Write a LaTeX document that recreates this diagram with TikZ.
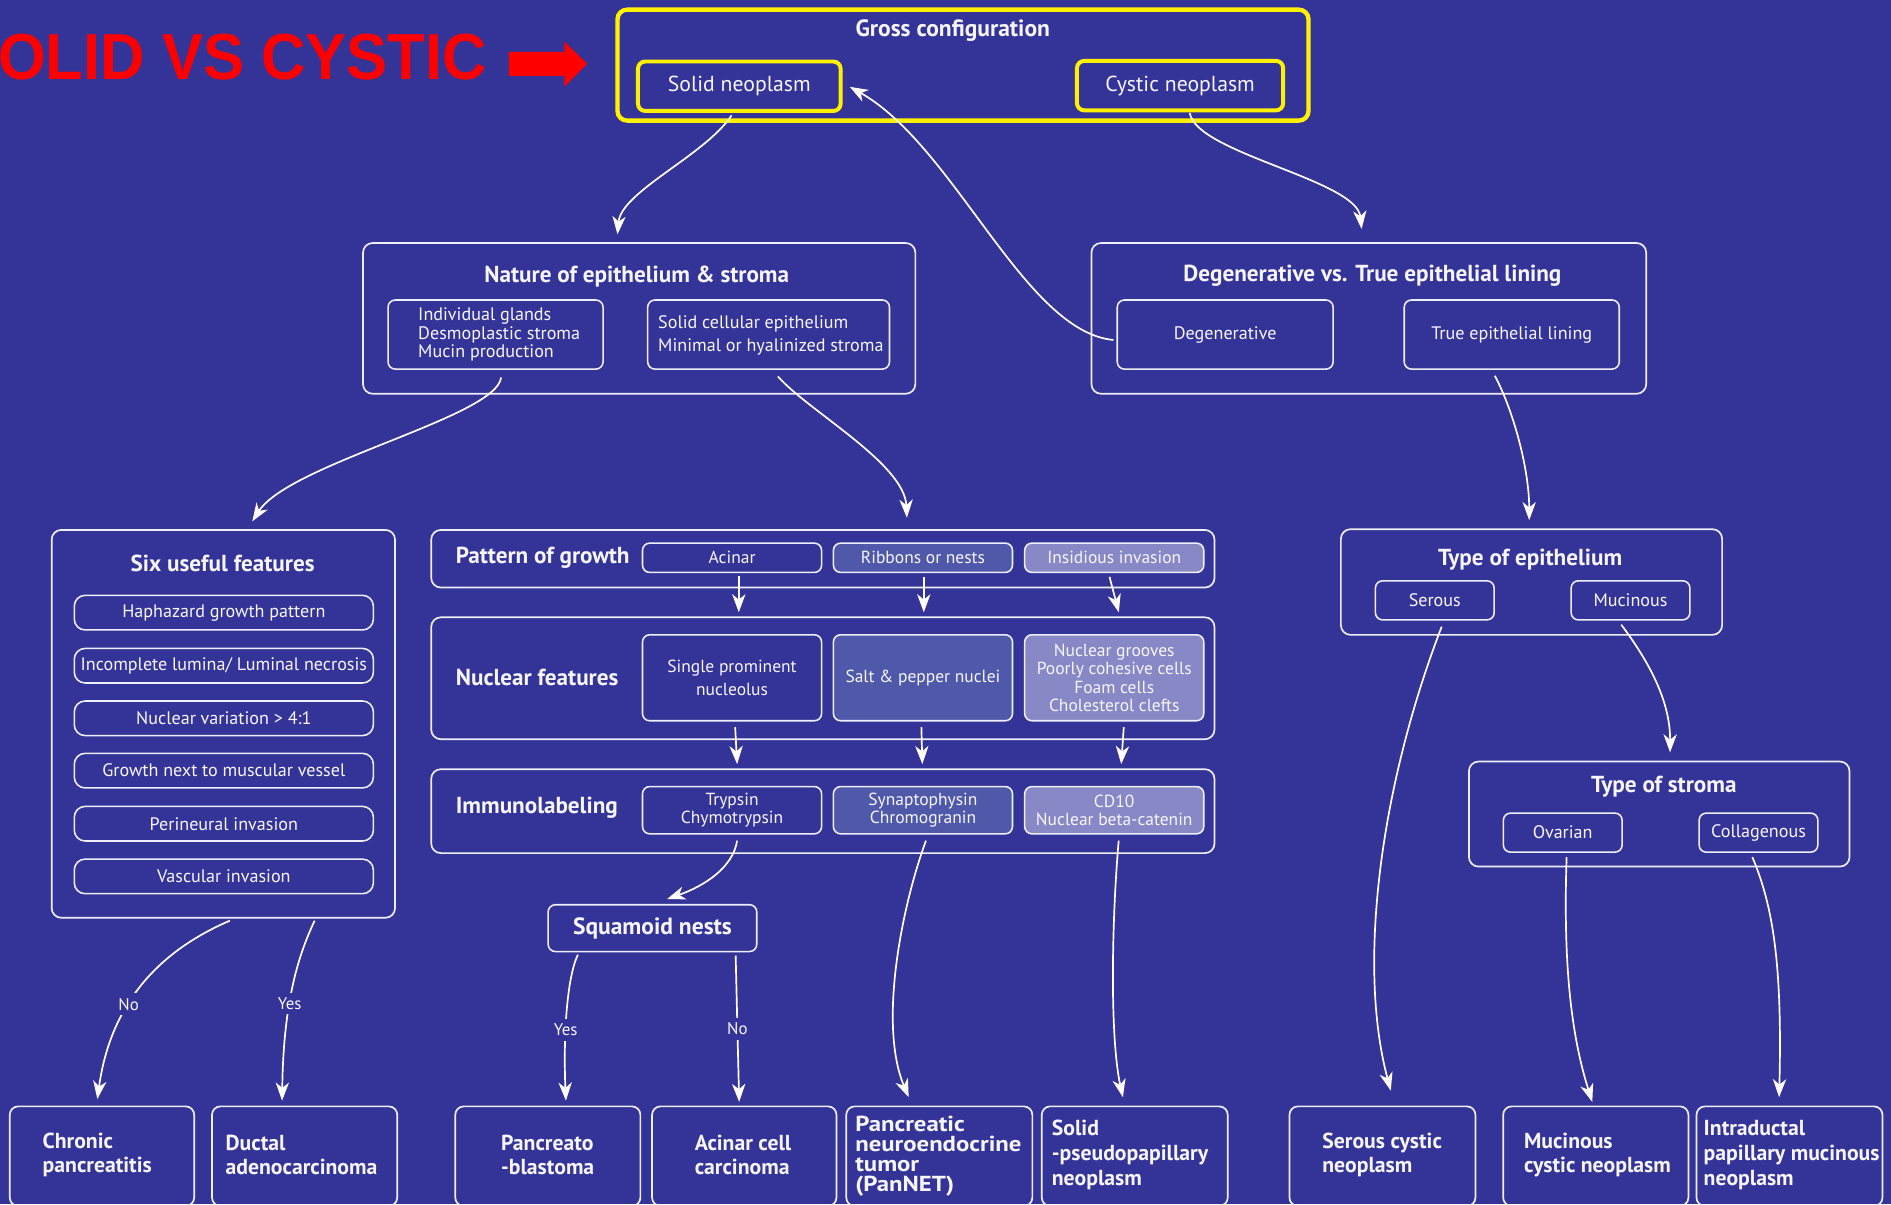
\documentclass[tikz,border=0pt]{standalone}
\usepackage{fontspec}
\setmainfont{PT Sans}
\newfontfamily\headfont{Liberation Sans}
\usetikzlibrary{arrows.meta,calc}
\definecolor{bg}{RGB}{52,52,152}
\definecolor{midfill}{RGB}{80,88,170}
\definecolor{lightfill}{RGB}{136,136,198}
\definecolor{ylw}{RGB}{255,240,0}
\definecolor{txt}{RGB}{246,246,252}
\definecolor{redc}{RGB}{255,0,0}
\definecolor{edge}{RGB}{238,238,248}
\newcommand{\myfs}[2]{\fontsize{#1}{#2}\selectfont}
\tikzset{
  obox/.style={draw=edge, line width=1.4pt, rounded corners=8pt, inner sep=0pt},
  sbox/.style={draw=edge, line width=1.3pt, rounded corners=6pt, inner sep=0pt, text=txt, align=center},
  ybox/.style={draw=ylw, line width=3.6pt, rounded corners=8pt, inner sep=0pt, text=txt, align=center},
  ttl/.style={text=txt, inner sep=0pt, font=\bfseries\myfs{19.2}{22}},
  body/.style={text=txt, inner sep=0pt, align=left},
  item/.style={sbox, rounded corners=9pt, minimum width=248pt, minimum height=28.7pt, font=\myfs{15}{18}},
  cell/.style={sbox, minimum width=148.5pt, font=\myfs{14.5}{15.3}},
  small/.style={sbox, minimum width=98.5pt, minimum height=32.4pt, font=\myfs{15}{17}},
  leaf/.style={draw=edge, line width=1.4pt, rounded corners=7pt, inner sep=0pt, minimum height=82.6pt},
  leaft/.style={text=txt, inner sep=0pt, align=left, anchor=west, font=\bfseries\myfs{18}{20}},
  conn/.style={draw=white, line width=1.4pt, -{Stealth[length=15pt,width=11pt,inset=4.5pt]}},
  yn/.style={fill=bg, text=txt, inner xsep=2pt, inner ysep=4pt, font=\myfs{14}{16}},
}
\begin{document}
\begin{tikzpicture}[x=1pt,y=-1pt]
\useasboundingbox (0,0) rectangle (1568,998.4);
\fill[bg] (0,0) rectangle (1568,998.4);
\clip (0,0) rectangle (1568,998.4);

% heading
\node[anchor=base east, inner sep=0pt, text=redc, font=\headfont\bfseries\myfs{54}{60}, xscale=0.945] (head) at (404,66.3) {OLID VS CYSTIC};
\fill[redc] (422,43) -- (468,43) -- (468,34.5) -- (487,53) -- (468,72) -- (468,63) -- (422,63) -- cycle;

% gross configuration
\node[ybox, minimum width=573pt, minimum height=92pt] (gross) at (798.5,54) {};
\node[ttl, font=\bfseries\myfs{19.5}{22}] (grossT) at (790,25) {Gross configuration};
\node[ybox, line width=3.3pt, rounded corners=6pt, minimum width=168pt, minimum height=41pt, font=\myfs{18}{20}] (solid) at (613,71.5) {Solid neoplasm};
\node[ybox, line width=3.3pt, rounded corners=6pt, minimum width=171pt, minimum height=41pt, font=\myfs{18}{20}] (cystic) at (978.5,71) {Cystic neoplasm};

% nature
\node[obox, minimum width=458pt, minimum height=125pt] (nat) at (530,264) {};
\node[ttl] (natT) at (528,229) {Nature of epithelium \& stroma};
\node[sbox, minimum width=178.3pt, minimum height=57.3pt] (nat1) at (410.9,277.4) {};
\node[body, anchor=west, font=\myfs{15}{15.5}] (nat1T) at (346.6,277.5) {Individual glands\\Desmoplastic stroma\\Mucin production};
\node[sbox, minimum width=200.5pt, minimum height=57.3pt] (nat2) at (637.3,277.4) {};
\node[body, anchor=west, font=\myfs{15}{18.5}] (nat2T) at (545.6,278.2) {Solid cellular epithelium\\Minimal or hyalinized stroma};

% degenerative
\node[obox, minimum width=460pt, minimum height=125pt] (deg) at (1135,264) {};
\node[ttl] (degT) at (1138,229) {Degenerative vs. True epithelial lining};
\node[sbox, minimum width=179pt, minimum height=57.3pt, font=\myfs{15}{17}] (degen) at (1015.9,277.4) {Degenerative};
\node[sbox, minimum width=178.3pt, minimum height=57.3pt, font=\myfs{15}{17}] (truel) at (1253.5,277.4) {True epithelial lining};

% six useful features
\node[obox, minimum width=284.7pt, minimum height=321.6pt] (six) at (185.2,600.2) {};
\node[ttl] (sixT) at (184.6,467) {Six useful features};
\node[item] (f1) at (185.6,508) {Haphazard growth pattern};
\node[item] (f2) at (185.6,552) {Incomplete lumina/ Luminal necrosis};
\node[item] (f3) at (185.6,595.6) {Nuclear variation > 4:1};
\node[item] (f4) at (185.6,639) {Growth next to muscular vessel};
\node[item] (f5) at (185.6,683) {Perineural invasion};
\node[item] (f6) at (185.6,726.7) {Vascular invasion};

% pattern of growth
\node[obox, minimum width=649.5pt, minimum height=47.8pt] (pat) at (682.3,463.3) {};
\node[ttl, anchor=west] (patT) at (377.8,462.8) {Pattern of growth};
\node[cell, minimum height=24.3pt] (pg1) at (607,462.5) {Acinar};
\node[cell, fill=midfill, minimum height=24.3pt] (pg2) at (765.3,462.5) {Ribbons or nests};
\node[cell, fill=lightfill, minimum height=24.3pt] (pg3) at (923.9,462.5) {Insidious invasion};

% nuclear features
\node[obox, minimum width=649.5pt, minimum height=101.1pt] (nuc) at (682.3,562.4) {};
\node[ttl, anchor=west] (nucT) at (377.8,561.5) {Nuclear features};
\node[cell, minimum height=71.3pt, font=\myfs{14.5}{18.6}] (nf1) at (607,562) {Single prominent\\nucleolus};
\node[cell, fill=midfill, minimum height=71.3pt] (nf2) at (765.3,562) {Salt \& pepper nuclei};
\node[cell, fill=lightfill, minimum height=71.3pt] (nf3) at (923.9,562) {Nuclear grooves\\Poorly cohesive cells\\Foam cells\\Cholesterol clefts};

% immunolabeling
\node[obox, minimum width=649.5pt, minimum height=69.6pt] (imm) at (682.3,672.6) {};
\node[ttl, anchor=west] (immT) at (377.8,670) {Immunolabeling};
\node[cell, minimum height=39.2pt] (ic1) at (607,671.8) {Trypsin\\Chymotrypsin};
\node[cell, fill=midfill, minimum height=39.2pt] (ic2) at (765.3,671.8) {Synaptophysin\\Chromogranin};
\node[cell, fill=lightfill, minimum height=39.2pt] (ic3) at (923.9,671.8) {CD10\\Nuclear beta-catenin};

% squamoid
\node[sbox, minimum width=173pt, minimum height=38.8pt, font=\bfseries\myfs{19.5}{22}] (sq) at (541,769.6) {Squamoid nests};

% type of epithelium / stroma
\node[obox, minimum width=316.1pt, minimum height=87.6pt] (toe) at (1269.9,482.6) {};
\node[ttl] (toeT) at (1268.8,463.7) {Type of epithelium};
\node[small] (ser) at (1189.7,497.8) {Serous};
\node[small] (muc) at (1352,497.8) {Mucinous};
\node[obox, minimum width=315.6pt, minimum height=87.1pt] (tos) at (1375.8,675) {};
\node[ttl] (tosT) at (1379.6,652.2) {Type of stroma};
\node[small] (ova) at (1295.8,690.4) {Ovarian};
\node[small] (col) at (1458.1,690.4) {Collagenous};

% leaves
\node[leaf, minimum width=152.9pt] (chr) at (84.55,958.7) {};
\node[leaf, minimum width=153.6pt] (duc) at (252.6,958.7) {};
\node[leaf, minimum width=153.5pt] (panc) at (454.25,958.7) {};
\node[leaf, minimum width=152.9pt] (acc) at (617.15,958.7) {};
\node[leaf, minimum width=154.3pt] (pnet) at (778.85,958.7) {};
\node[leaf, minimum width=154.2pt] (spn) at (940.9,958.7) {};
\node[leaf, minimum width=154.2pt] (scn) at (1146.3,958.7) {};
\node[leaf, minimum width=153.6pt] (mcn) at (1323.2,958.7) {};
\node[leaf, minimum width=154.2pt] (ipmn) at (1483.8,958.7) {};
\node[leaft] (chrT) at (35.2,957.75) {Chronic\\pancreatitis};
\node[leaft] (ducT) at (186.9,957.75) {Ductal\\adenocarcinoma};
\node[leaft] (pancT) at (415.3,957.75) {Pancreato\\-blastoma};
\node[leaft] (accT) at (575.9,957.75) {Acinar cell\\carcinoma};
\node[leaft, font=\bfseries\myfs{18}{16.6}, xscale=1.14] (pnetT) at (709,958.4) {Pancreatic\\neuroendocrine\\tumor\\(PanNET)};
\node[leaft, font=\bfseries\myfs{18}{20.7}] (spnT) at (872,957.5) {Solid\\-pseudopapillary\\neoplasm};
\node[leaft] (scnT) at (1096.3,957.75) {Serous cystic\\neoplasm};
\node[leaft] (mcnT) at (1263.5,957.75) {Mucinous\\cystic neoplasm};
\node[leaft, font=\bfseries\myfs{18}{20.7}] (ipmnT) at (1412.5,957.5) {Intraductal\\papillary mucinous\\neoplasm};

% connectors
\draw[conn] ($(solid.south)+(-6.4,2)$) .. controls ($(solid.south)+(-28,35)$) and ($(nat.north)+(-15,-42)$) .. ($(nat.north)+(-18,-6.5)$);
\draw[conn] ($(cystic.south)+(8,0.5)$) .. controls ($(cystic.south)+(13.5,34)$) and ($(deg.north)+(-10,-51.7)$) .. ($(deg.north)+(-6,-11)$);
\draw[conn] ($(degen.west)+(-2.5,4.5)$) .. controls ($(degen.west)+(-76.4,-2.4)$) and ($(solid.east)+(93,49.5)$) .. ($(solid.east)+(6,0.5)$);
\draw[conn] ($(nat1.south)+(4.6,6.3)$) .. controls ($(nat1.south)+(1.1,39)$) and ($(six.north)+(54.8,-54.4)$) .. ($(six.north)+(24,-6.4)$);
\draw[conn] ($(nat2.south)+(7.7,5.4)$) .. controls ($(nat2.south)+(32.7,34)$) and ($(pat.north)+(67.7,-54.4)$) .. ($(pat.north)+(69.7,-9.4)$);
\draw[conn] ($(truel.south)+(-14,4.9)$) .. controls ($(truel.south)+(1.5,34)$) and ($(toe.north)+(-1.9,-48.8)$) .. ($(toe.north)+(-1.9,-6.8)$);
\draw[conn] ($(muc.south)+(-7.7,3.3)$) .. controls ($(muc.south)+(13,31)$) and ($(tos.north)+(9.2,-51.4)$) .. ($(tos.north)+(9,-6.9)$);
\draw[conn] ($(ser.south)+(5.7,5)$) .. controls ($(ser.south)+(-44.7,136)$) and ($(scn.north)+(-21.3,-117.4)$) .. ($(scn.north)+(6.9,-12.4)$);
\draw[conn] ($(ova.south)+(3.2,3.4)$) .. controls ($(ova.south)+(0.2,93.4)$) and ($(mcn.north)+(-20.2,-57.4)$) .. ($(mcn.north)+(-2.9,-3)$);
\draw[conn] ($(col.south)+(-5.1,3.4)$) .. controls ($(col.south)+(11.9,43.4)$) and ($(ipmn.north)+(-5.8,-117.4)$) .. ($(ipmn.north)+(-8.6,-6.9)$);
\draw[conn] ($(six.south)+(5.4,1.7)$) .. controls ($(six.south)+(-65.2,32)$) and ($(chr.north)+(5.45,-72.4)$) .. node[yn, pos=0.56] (no1) {No} ($(chr.north)+(-3.85,-5.4)$);
\draw[conn] ($(six.south)+(75.7,1.7)$) .. controls ($(six.south)+(62.8,29)$) and ($(duc.north)+(-17.6,-87.4)$) .. node[yn, pos=0.6] (yes1) {Yes} ($(duc.north)+(-18.7,-4.1)$);
\draw[conn] ($(ic1.south)+(4.2,5)$) .. controls ($(ic1.south)+(1,26.6)$) and ($(sq.north)+(44,-15.2)$) .. ($(sq.north)+(12.2,-4.1)$);
\draw[conn] ($(sq.south)+(-61.8,1.9)$) .. controls ($(sq.south)+(-71,21)$) and ($(panc.north)+(12.75,-57.4)$) .. node[yn, pos=0.61] (yes2) {Yes} ($(panc.north)+(15,-4.1)$);
\draw[conn] ($(sq.south)+(69,2.7)$) -- node[yn, pos=0.5] (no2) {No} ($(acc.north)+(-4.25,-3)$);
\draw[conn] ($(ic2.south)+(2.5,5)$) .. controls ($(ic2.south)+(-17.3,58.6)$) and ($(pnet.north)+(-50.85,-67.4)$) .. ($(pnet.north)+(-25.35,-6.9)$);
\draw[conn] ($(ic3.south)+(3.7,5)$) .. controls ($(ic3.south)+(-1.9,68.6)$) and ($(spn.north)+(-20.9,-57.4)$) .. ($(spn.north)+(-9.8,-6.9)$);
\draw[conn] ($(pg1.south)+(5.6,2)$) -- ($(nf1.north)+(5.6,-18)$);
\draw[conn] ($(pg2.south)+(0.7,3)$) -- ($(nf2.north)+(0.7,-18)$);
\draw[conn] ($(pg3.south)+(-3.9,3)$) -- ($(nf3.north)+(3.8,-18)$);
\draw[conn] ($(nf1.south)+(2.6,4.7)$) -- ($(ic1.north)+(4.2,-18)$);
\draw[conn] ($(nf2.south)+(-1.3,4.7)$) -- ($(ic2.north)+(-0.5,-18)$);
\draw[conn] ($(nf3.south)+(7.9,4.7)$) -- ($(ic3.north)+(5.8,-18)$);
\end{tikzpicture}
\end{document}
